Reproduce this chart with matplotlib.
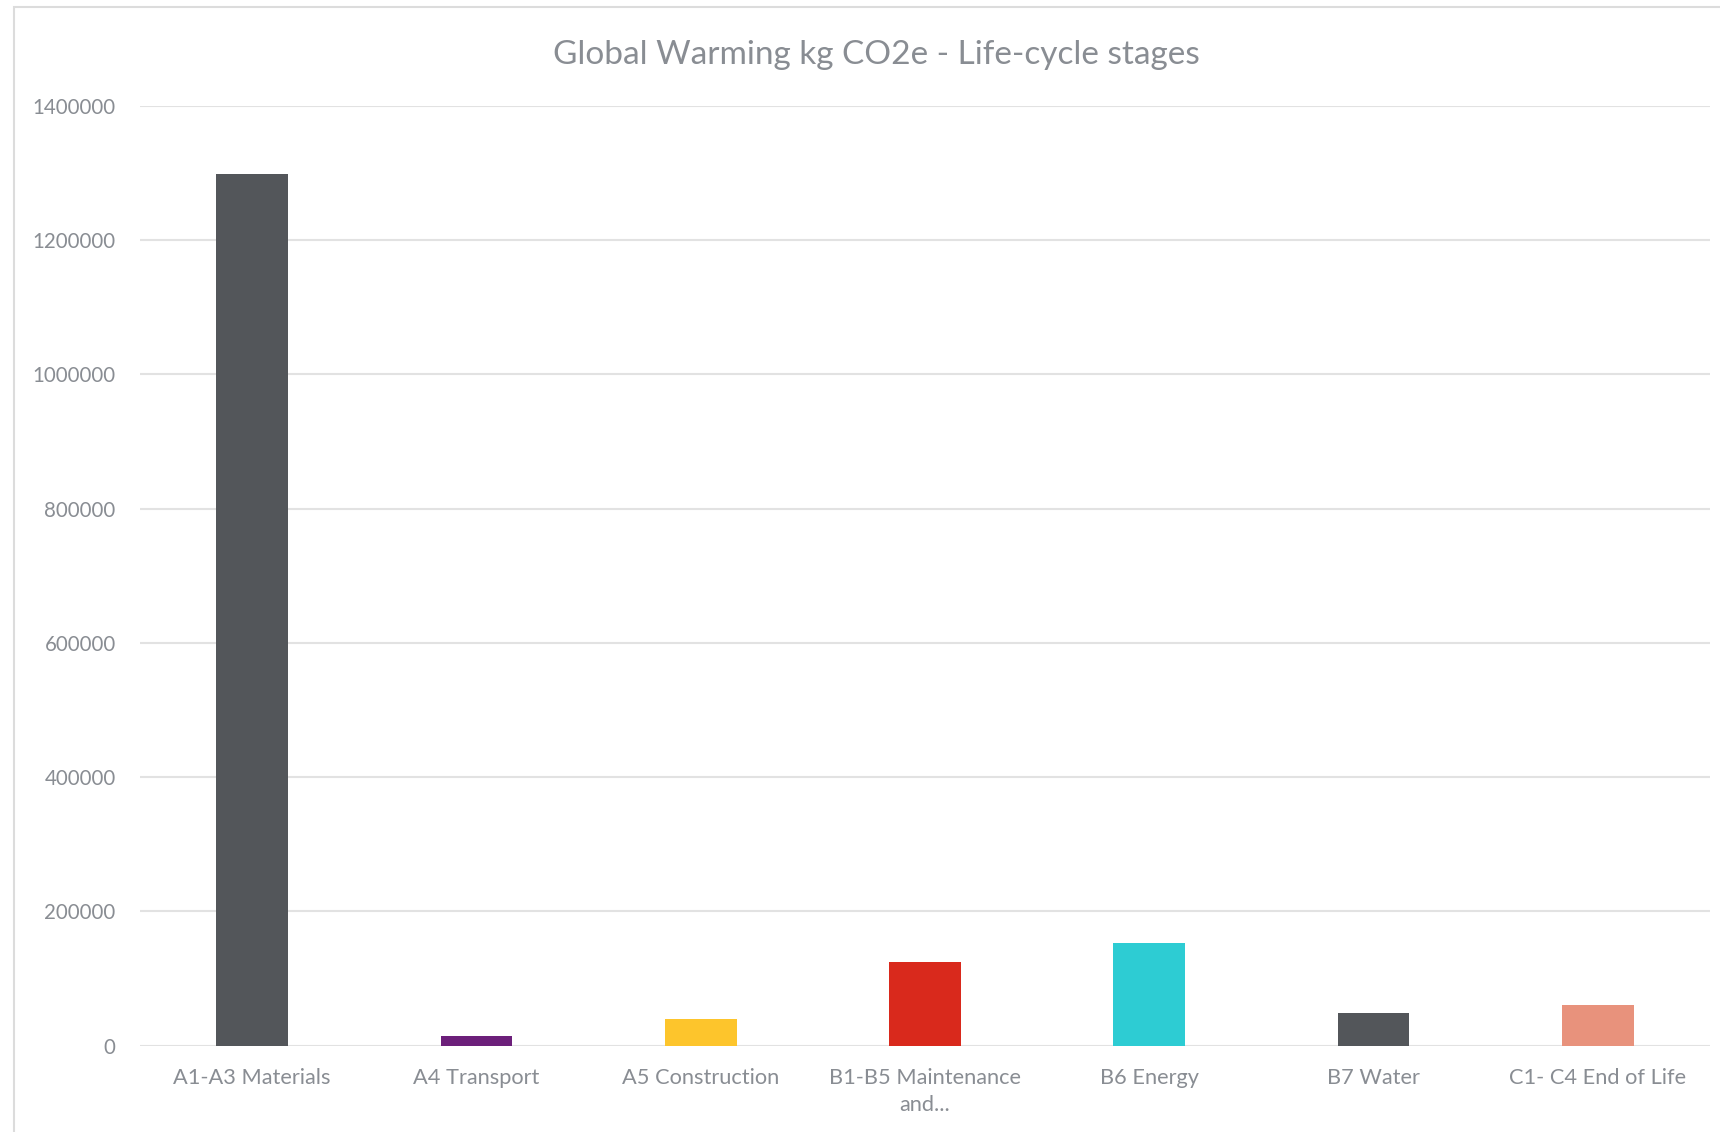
import matplotlib
matplotlib.use("Agg")
import matplotlib.pyplot as plt
from matplotlib.patches import Rectangle

# data
stages = ["A1-A3 Materials", "A4 Transport", "A5 Construction",
          "B1-B5 Maintenance\nand...", "B6 Energy", "B7 Water",
          "C1- C4 End of Life"]
co2e = [1298000, 14500, 39800, 124700, 153000, 48700, 60700]
colors = ["#53565a", "#6c1f7a", "#fdc52c", "#d9291c", "#2dccd3",
          "#53565a", "#e8927c"]
yticks = [0, 200000, 400000, 600000, 800000, 1000000, 1200000, 1400000]

txt = "#898d93"
grid = "#e2e2e2"
plt.rcParams['font.family'] = ['Lato', 'DejaVu Sans']

fig = plt.figure(figsize=(17.2, 11.32), dpi=100)
ax = fig.add_axes([140/1720, 1 - 1045.7/1132, (1710 - 140)/1720, (1045.7 - 106)/1132])

# chart border
fig.patches.append(Rectangle((14/1720, -0.01), 1.0, 1 - 7/1132 + 0.01,
                             transform=fig.transFigure, fill=False,
                             edgecolor="#dcdcdc", linewidth=1.5))

x = range(len(stages))
ax.bar(x, co2e, width=0.32, color=colors, zorder=3)

ax.set_xlim(-0.5, len(stages) - 0.5)
ax.set_ylim(0, 1400000)
ax.set_yticks(yticks)
ax.set_yticklabels([str(v) for v in yticks], fontsize=14.8)
ax.set_xticks(list(x))
ax.set_xticklabels(stages, linespacing=1.45, fontsize=15.7)

ax.grid(axis='y', color=grid, linewidth=1.5, zorder=0)
for s in ax.spines.values():
    s.set_visible(False)
ax.tick_params(axis='both', length=0, labelcolor=txt)
ax.tick_params(axis='x', pad=16)
ax.tick_params(axis='y', pad=17.5)
for lab in ax.get_xticklabels():
    lab.set_verticalalignment('top')

fig.text(876/1720, 1 - 55/1132, "Global Warming kg CO2e - Life-cycle stages",
         ha='center', va='center', fontsize=24, color=txt)

fig.savefig("out.png", dpi=100)
